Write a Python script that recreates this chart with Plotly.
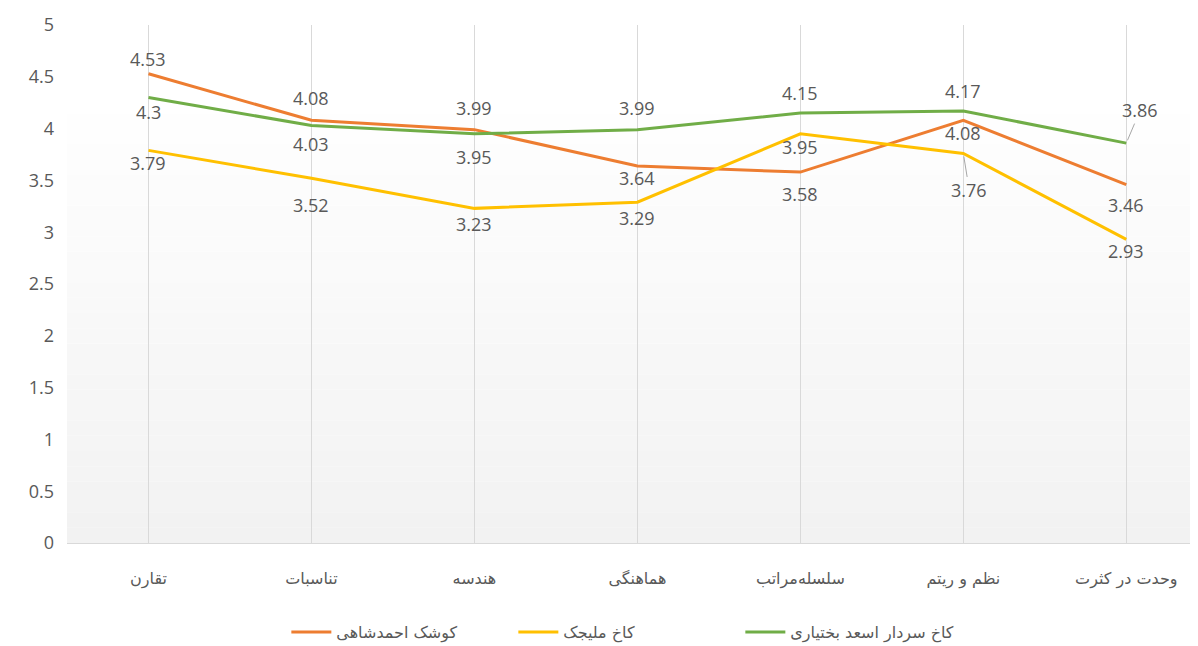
import plotly.graph_objects as go

categories = ["تقارن", "تناسبات", "هندسه", "هماهنگی", "سلسله‌مراتب", "نظم و ریتم", "وحدت در کثرت"]
series_names = ["کوشک احمدشاهی", "کاخ ملیجک", "کاخ سردار اسعد بختیاری"]
orange_vals = [4.53, 4.08, 3.99, 3.64, 3.58, 4.08, 3.46]
yellow_vals = [3.79, 3.52, 3.23, 3.29, 3.95, 3.76, 2.93]
green_vals = [4.30, 4.03, 3.95, 3.99, 4.15, 4.17, 3.86]
y_ticks = [0, 0.5, 1, 1.5, 2, 2.5, 3, 3.5, 4, 4.5, 5]

colors = ["#ED7D31", "#FFC000", "#70AD47"]
# label vertical offsets in px (style only)
orange_off = [15, 22, 22, -12, -22, -13, -20]
yellow_off = [-13, -27, -16, -16, -13, None, -12]
green_off = [-14, -19, -23, 22, 20, 20, None]

LABEL_FONT = dict(family="Open Sans, DejaVu Sans, sans-serif", size=18, color="#595959")
AR_FONT = "DejaVu Sans, Noto Sans, sans-serif"

fig = go.Figure()
for name, vals, col in zip(series_names, [orange_vals, yellow_vals, green_vals], colors):
    fig.add_trace(go.Scatter(x=categories, y=vals, mode="lines", name=name,
                             line=dict(color=col, width=3), hoverinfo="x+y"))

annotations = []
for vals, offs in zip([orange_vals, yellow_vals, green_vals], [orange_off, yellow_off, green_off]):
    for c, v, o in zip(categories, vals, offs):
        if o is None:
            continue
        annotations.append(dict(x=c, y=v, xref="x", yref="y", text=f"{v:g}", showarrow=False,
                                yshift=o, font=LABEL_FONT))
# labels with leader lines
annotations.append(dict(x=categories[6], y=green_vals[6], xref="x", yref="y", text=f"{green_vals[6]:g}",
                        showarrow=True, arrowhead=0, arrowwidth=1, arrowcolor="#a6a6a6",
                        ax=14, ay=-33, standoff=3, font=LABEL_FONT))
annotations.append(dict(x=categories[5], y=yellow_vals[5], xref="x", yref="y", text=f"{yellow_vals[5]:g}",
                        showarrow=True, arrowhead=0, arrowwidth=1, arrowcolor="#a6a6a6",
                        ax=6, ay=37, standoff=3, font=LABEL_FONT))

# subtle background gradient (white top -> light gray bottom)
shapes = []
n = 30
top = 0.888
for i in range(n):
    y0 = top * i / n
    y1 = top * (i + 1) / n
    t = i / (n - 1)
    g = int(round(242 + (255 - 242) * t))
    shapes.append(dict(type="rect", xref="paper", yref="paper", x0=0, x1=1, y0=y0, y1=y1,
                       fillcolor=f"rgb({g},{g},{g})", line=dict(width=0), layer="below"))

# page body has an 8px margin, so the figure is 8px smaller and offsets reduced by 8
fig.update_layout(
    width=1190, height=638,
    margin=dict(l=59, r=0, t=17, b=103, autoexpand=False),
    paper_bgcolor="white", plot_bgcolor="white",
    showlegend=True,
    legend=dict(orientation="h", x=0.495, xanchor="center", y=-0.172, yanchor="middle",
                font=dict(family=AR_FONT, size=16, color="#595959"),
                entrywidth=172, entrywidthmode="pixels", itemwidth=40,
                traceorder="normal"),
    xaxis=dict(type="category", range=[-0.5, 6.44], showgrid=True, gridcolor="#d9d9d9", gridwidth=1,
               showline=True, linecolor="#d9d9d9", linewidth=1, ticks="", automargin=False,
               tickfont=dict(family=AR_FONT, size=16, color="#595959"), ticklabelstandoff=21),
    yaxis=dict(range=[0, 5], tickvals=y_ticks, showgrid=False, zeroline=False, showline=False,
               automargin=False,
               tickfont=dict(family="Open Sans, DejaVu Sans, sans-serif", size=18, color="#595959"),
               ticklabelstandoff=12),
    annotations=annotations,
    shapes=shapes,
)

fig.write_html("out.html")
